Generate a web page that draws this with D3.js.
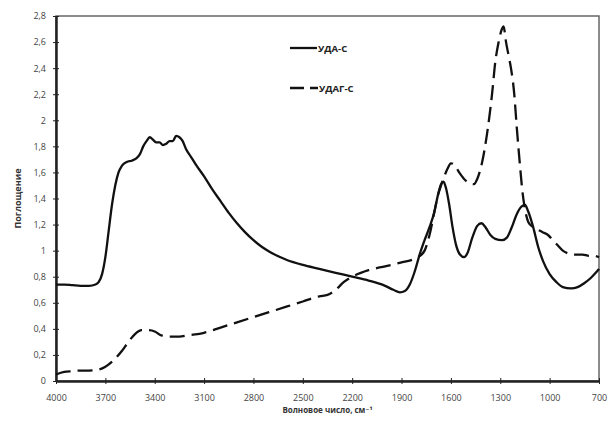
<!DOCTYPE html>
<html>
<head>
<meta charset="utf-8">
<script src="https://cdn.jsdelivr.net/npm/d3@7"></script>
<style>
  body { margin: 0; background: #fff; }
  text { font-family: "Open Sans", "DejaVu Sans", sans-serif; }
</style>
</head>
<body>
<svg id="chart"></svg>
<script>
const width = 611, height = 424;

// УДА-С (solid)
const wnA = [4000,3950,3900,3850,3800,3760,3740,3720,3700,3680,3660,3640,3620,3600,3570,3540,3510,3490,3470,3450,3430,3410,3390,3370,3350,3330,3310,3290,3270,3250,3230,3210,3180,3150,3100,3050,3000,2950,2900,2850,2800,2750,2700,2600,2500,2400,2300,2200,2100,2000,1950,1910,1880,1850,1820,1790,1760,1730,1700,1680,1660,1645,1630,1610,1590,1570,1545,1520,1500,1470,1440,1415,1390,1360,1330,1290,1260,1230,1200,1170,1150,1130,1100,1070,1040,1000,960,920,870,830,790,750,720,700];
const absA = [0.74,0.74,0.735,0.73,0.73,0.74,0.76,0.82,0.95,1.15,1.35,1.5,1.6,1.65,1.68,1.69,1.71,1.74,1.8,1.84,1.87,1.85,1.83,1.83,1.81,1.82,1.84,1.84,1.88,1.87,1.84,1.78,1.72,1.66,1.57,1.47,1.38,1.29,1.21,1.14,1.08,1.03,0.99,0.93,0.89,0.86,0.83,0.8,0.77,0.73,0.7,0.68,0.69,0.74,0.84,0.97,1.08,1.18,1.3,1.42,1.51,1.53,1.48,1.35,1.18,1.05,0.97,0.95,0.98,1.1,1.19,1.21,1.18,1.12,1.09,1.08,1.1,1.18,1.28,1.34,1.35,1.3,1.18,1.03,0.92,0.82,0.76,0.72,0.71,0.72,0.75,0.79,0.83,0.86];

// УДАГ-С (dashed)
const wnB = [4000,3950,3900,3850,3800,3750,3700,3650,3600,3560,3520,3480,3440,3400,3360,3300,3250,3200,3100,3000,2900,2800,2700,2600,2500,2400,2350,2300,2250,2200,2100,2000,1900,1800,1760,1730,1700,1680,1660,1640,1620,1600,1580,1550,1520,1490,1460,1440,1410,1380,1350,1330,1310,1290,1280,1265,1250,1235,1215,1200,1180,1165,1150,1130,1100,1070,1040,1010,980,950,920,890,860,830,800,760,730,700];
const absB = [0.05,0.07,0.075,0.08,0.08,0.085,0.11,0.16,0.23,0.3,0.36,0.39,0.39,0.38,0.35,0.34,0.34,0.35,0.37,0.41,0.45,0.49,0.53,0.57,0.61,0.65,0.66,0.7,0.76,0.8,0.85,0.88,0.91,0.95,1.0,1.12,1.3,1.42,1.5,1.57,1.63,1.67,1.66,1.6,1.55,1.52,1.51,1.55,1.68,1.9,2.2,2.45,2.6,2.7,2.72,2.6,2.5,2.4,2.2,1.95,1.65,1.45,1.32,1.22,1.18,1.16,1.14,1.12,1.08,1.04,1.0,0.98,0.97,0.97,0.97,0.96,0.96,0.95];

const xTicks = [4000,3700,3400,3100,2800,2500,2200,1900,1600,1300,1000,700];
const yTicks = [0,0.2,0.4,0.6,0.8,1,1.2,1.4,1.6,1.8,2,2.2,2.4,2.6,2.8];

const seriesNames = ["УДА-С", "УДАГ-С"];

const margin = { left: 56, right: 12, top: 16, bottom: 43 };

const svg = d3.select("#chart")
    .attr("width", width)
    .attr("height", height);

const x = d3.scaleLinear().domain([4000, 700]).range([margin.left, width - margin.right]);
const y = d3.scaleLinear().domain([0, 2.8]).range([height - margin.bottom, margin.top]);

const fmt = d => String(d).replace(".", ",");

// frame
svg.append("rect")
    .attr("x", x(4000)).attr("y", y(2.8))
    .attr("width", x(700) - x(4000)).attr("height", y(0) - y(2.8))
    .attr("fill", "none").attr("stroke", "#666").attr("stroke-width", 1.5);

// axes
const xAxis = svg.append("g")
    .attr("transform", `translate(0,${y(0)})`)
    .call(d3.axisBottom(x).tickValues(xTicks).tickFormat(d => d).tickSize(0).tickPadding(14));
const yAxis = svg.append("g")
    .attr("transform", `translate(${x(4000)},0)`)
    .call(d3.axisLeft(y).tickValues(yTicks).tickFormat(fmt).tickSize(0).tickPadding(10));

[xAxis, yAxis].forEach(a => {
    a.select(".domain").attr("stroke", "#222").attr("stroke-width", 2.5);
    a.selectAll("text").attr("font-size", 9).attr("fill", "#444");
});

// cross ticks
xAxis.selectAll(".tick").append("line")
    .attr("y1", -3).attr("y2", 3).attr("stroke", "#222").attr("stroke-width", 1);
yAxis.selectAll(".tick").append("line")
    .attr("x1", -3).attr("x2", 3).attr("stroke", "#222").attr("stroke-width", 1);

// lines
const line = d3.line()
    .x(d => x(d[0]))
    .y(d => y(d[1]))
    .curve(d3.curveMonotoneX);

svg.append("path")
    .datum(d3.zip(wnA, absA))
    .attr("d", line)
    .attr("fill", "none").attr("stroke", "#111").attr("stroke-width", 2.3);

svg.append("path")
    .datum(d3.zip(wnB, absB))
    .attr("d", line)
    .attr("fill", "none").attr("stroke", "#111").attr("stroke-width", 2.3)
    .attr("stroke-dasharray", "15,7");

// legend
const legend = svg.append("g").attr("transform", "translate(290,0)");
legend.append("line").attr("x1", 0).attr("x2", 27).attr("y1", 48).attr("y2", 48)
    .attr("stroke", "#111").attr("stroke-width", 2.3);
legend.append("text").attr("x", 28).attr("y", 51.5).text(seriesNames[0])
    .attr("font-size", 9.5).attr("font-weight", "bold").attr("fill", "#222");
legend.append("line").attr("x1", 0).attr("x2", 28).attr("y1", 88).attr("y2", 88)
    .attr("stroke", "#111").attr("stroke-width", 2.3).attr("stroke-dasharray", "14,6");
legend.append("text").attr("x", 29).attr("y", 91.5).text(seriesNames[1])
    .attr("font-size", 9.5).attr("font-weight", "bold").attr("fill", "#222");

// axis titles
svg.append("text")
    .attr("x", (x(4000) + x(700)) / 2).attr("y", 413)
    .attr("text-anchor", "middle")
    .attr("font-size", 8).attr("font-weight", "bold").attr("fill", "#333")
    .text("Волновое число, см⁻¹");

svg.append("text")
    .attr("transform", `translate(21,${(y(0) + y(2.8)) / 2}) rotate(-90)`)
    .attr("text-anchor", "middle")
    .attr("font-size", 9).attr("font-weight", "bold").attr("fill", "#333")
    .text("Поглощение");
</script>
</body>
</html>
